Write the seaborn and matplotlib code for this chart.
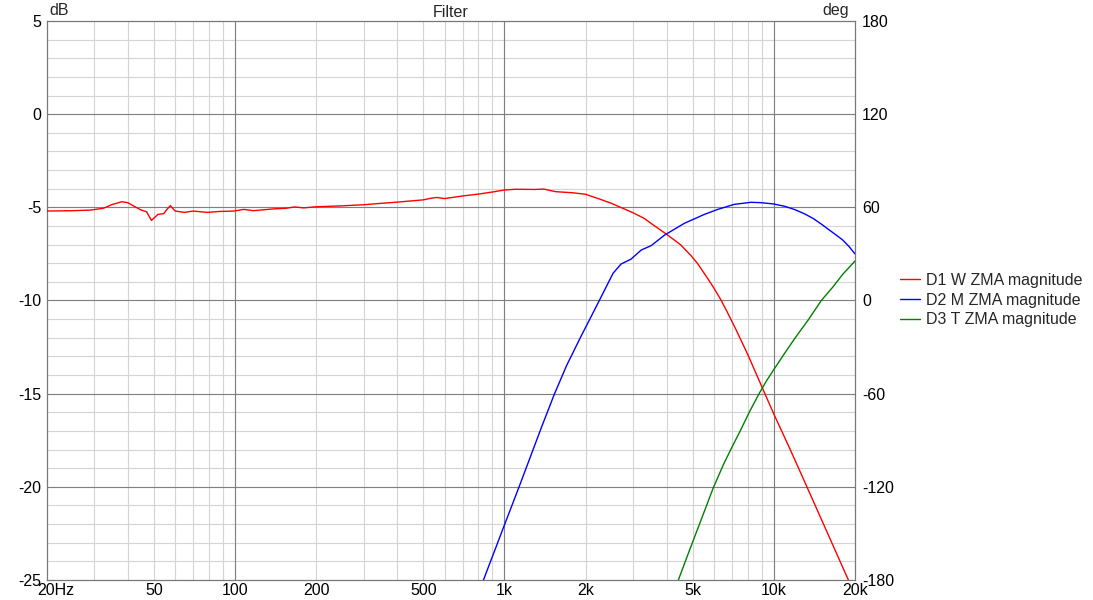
import numpy as np
import pandas as pd
import matplotlib
matplotlib.use('Agg')
import matplotlib.pyplot as plt
import matplotlib.transforms as mtransforms
import seaborn as sns

# --- data (frequency in Hz, level in dB) ---
w_freq = [20, 25, 29, 32.5, 35, 38, 40, 42, 44.6, 47, 49, 51.8, 54.4, 56, 57.6, 60, 65, 70,
          79, 88, 99, 108, 117, 140, 155, 166, 180, 200, 250, 300, 400, 500, 530, 560, 600,
          700, 800, 900, 1000, 1100, 1300, 1400, 1550, 1800, 2000, 2250, 2500, 2800, 3000,
          3300, 3500, 4000, 4500, 4930, 5200, 5700, 6000, 6350, 6650, 7200, 8000, 9260,
          10000, 11500, 13260, 15500, 18900]
w_db = [-5.2, -5.18, -5.15, -5.05, -4.85, -4.7, -4.75, -4.92, -5.13, -5.24, -5.7, -5.38, -5.34,
        -5.1, -4.91, -5.2, -5.27, -5.2, -5.27, -5.22, -5.2, -5.11, -5.18, -5.08, -5.05, -4.98,
        -5.03, -4.97, -4.92, -4.86, -4.72, -4.6, -4.52, -4.47, -4.53, -4.39, -4.29, -4.18,
        -4.07, -4.03, -4.04, -4.02, -4.16, -4.22, -4.3, -4.55, -4.79, -5.1, -5.29, -5.59,
        -5.86, -6.45, -7.0, -7.6, -8.0, -8.85, -9.35, -9.95, -10.5, -11.5, -12.9, -15.0,
        -16.1, -18.0, -20.0, -22.2, -25.0]

m_freq = [836, 1000, 1137, 1373, 1530, 1700, 1920, 2100, 2250, 2530, 2710, 2950, 3220, 3500,
          3930, 4650, 5520, 6190, 7130, 8220, 8950, 10000, 11000, 12000, 13000, 14000, 15000,
          16000, 17000, 18000, 19000, 20000]
m_db = [-25.0, -22.05, -19.95, -16.8, -15.05, -13.5, -11.95, -10.85, -10.0, -8.54, -8.04,
        -7.78, -7.29, -7.06, -6.49, -5.86, -5.38, -5.11, -4.84, -4.73, -4.75, -4.82, -4.95,
        -5.13, -5.35, -5.6, -5.9, -6.2, -6.48, -6.75, -7.1, -7.5]

t_freq = [4420, 4800, 5200, 5600, 5940, 6500, 7000, 7500, 8100, 8810, 9400, 10000, 11000,
          12000, 13400, 15000, 16500, 18000, 20000]
t_db = [-25.0, -23.62, -22.3, -21.08, -20.1, -18.8, -17.85, -17.0, -16.0, -15.0, -14.3,
        -13.7, -12.8, -12.0, -11.05, -10.0, -9.3, -8.6, -7.88]

labels = ['D1 W ZMA magnitude', 'D2 M ZMA magnitude', 'D3 T ZMA magnitude']
colors = ['#ff0000', '#0000ff', '#008000']

x_ticks = [20, 50, 100, 200, 500, 1000, 2000, 5000, 10000, 20000]
x_labels = ['20Hz', '50', '100', '200', '500', '1k', '2k', '5k', '10k', '20k']
db_ticks = [-25, -20, -15, -10, -5, 0, 5]
deg_ticks = [-180, -120, -60, 0, 60, 120, 180]

df = pd.concat([
    pd.DataFrame({'freq': w_freq, 'dB': w_db, 'series': labels[0]}),
    pd.DataFrame({'freq': m_freq, 'dB': m_db, 'series': labels[1]}),
    pd.DataFrame({'freq': t_freq, 'dB': t_db, 'series': labels[2]}),
])

sns.set_theme(style='white')
plt.rcParams['font.family'] = ['Liberation Sans', 'DejaVu Sans']
plt.rcParams['font.size'] = 11.5
plt.rcParams['axes.unicode_minus'] = False

fig = plt.figure(figsize=(10.93, 6), dpi=100)
ax = fig.add_axes([46.6 / 1093, 20 / 600, (855 - 46.6) / 1093, 559 / 600])

sns.lineplot(data=df, x='freq', y='dB', hue='series', palette=colors, estimator=None,
             linewidth=1.0, ax=ax, legend=True, zorder=5)

ax.set_xscale('log')
ax.set_xlim(20, 20000)
ax.set_ylim(-25, 5)

# light grid: 1..9 per decade and every dB
for dec in [10, 100, 1000, 10000]:
    for n in range(1, 10):
        f = n * dec
        if 20 < f < 20000:
            ax.axvline(f, color='#d4d4d4', lw=0.8, zorder=1)
for d in range(-24, 5):
    ax.axhline(d, color='#d4d4d4', lw=0.8, zorder=1)
# dark grid: decades and every 5 dB
for f in [100, 1000, 10000]:
    ax.axvline(f, color='#808080', lw=0.8, zorder=2)
for d in [-20, -15, -10, -5, 0]:
    ax.axhline(d, color='#808080', lw=0.8, zorder=2)

ax.set_xticks(x_ticks)
ax.set_xticklabels(x_labels)
ax.xaxis.set_minor_locator(matplotlib.ticker.NullLocator())
ax.set_yticks(db_ticks)
ax.tick_params(axis='both', length=0, labelsize=11.5, colors='black')
ax.tick_params(axis='x', pad=2)
ax.tick_params(axis='y', pad=4)
ax.set_xlabel('')
ax.set_ylabel('')
for s in ax.spines.values():
    s.set_color('#787878')
    s.set_linewidth(0.9)

# keep "20" of "20Hz" centred on its tick
first = ax.get_xticklabels()[0]
first.set_horizontalalignment('left')
first.set_transform(first.get_transform() +
                    mtransforms.ScaledTranslation(-8.9 / 100, 0, fig.dpi_scale_trans))

ax2 = ax.twinx()
ax2.set_ylim(-180, 180)
ax2.set_yticks(deg_ticks)
ax2.tick_params(axis='y', length=0, labelsize=11.5, colors='black', pad=5)
ax2.grid(False)
for s in ax2.spines.values():
    s.set_visible(False)

ax.set_title('Filter', fontsize=11.5, pad=3)
ax.annotate('dB', xy=(0, 1), xycoords='axes fraction', xytext=(2, 2.5),
            textcoords='offset points', ha='left', va='bottom', fontsize=11.5)
ax.annotate('deg', xy=(1, 1), xycoords='axes fraction', xytext=(-4, 2.5),
            textcoords='offset points', ha='right', va='bottom', fontsize=11.5)

handles, labs = ax.get_legend_handles_labels()
ax.get_legend().remove()
fig.legend(handles, labs, loc='center left', bbox_to_anchor=(900 / 1093, 0.5),
           frameon=False, fontsize=11.5, handlelength=1.25, handletextpad=0.4,
           labelspacing=0.3, borderpad=0, borderaxespad=0)

fig.savefig('out.png', dpi=100)
